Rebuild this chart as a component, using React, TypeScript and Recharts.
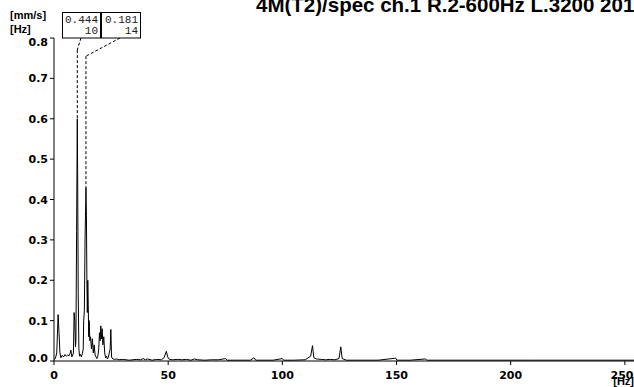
import { LineChart, Line, XAxis, YAxis, ReferenceLine } from 'recharts';

// spectrum: frequency [Hz] and velocity [mm/s]
const freqHz = [
  0, 0.6, 1.2, 1.8, 2.2, 2.6, 3.0, 3.6, 4.2, 4.8, 5.4, 6.0, 6.6, 7.0, 7.4, 7.8, 8.2, 8.5, 8.8, 9.1,
  9.4, 9.6, 9.9, 10.2, 10.35, 10.6, 10.9, 11.2, 11.6, 12.0, 12.4, 12.8, 13.0, 13.3, 13.6, 14.0, 14.2,
  14.4, 14.6, 14.8, 15.0, 15.2, 15.4, 15.7, 16.0, 16.4, 16.8, 17.2, 17.6, 18.0, 18.4, 18.8, 19.2,
  19.6, 19.9, 20.2, 20.5, 20.8, 21.1, 21.4, 21.8, 22.2, 22.6, 23.0, 23.4, 23.8, 24.2, 24.6, 24.9,
  25.2, 25.8, 26.5, 27.5, 28.5, 30, 33, 36, 38, 39, 40, 41, 43, 45, 47, 48.2, 49.2, 49.8, 50.5, 52,
  54, 56, 58, 60, 61.5, 63, 66, 69, 72, 75.2, 75.8, 78, 82, 86, 87.6, 88.4, 92, 96, 100, 100.6,
  105, 110, 112.4, 113.2, 113.8, 115, 117, 119, 121, 123, 124.8, 125.6, 126.2, 128, 135, 142, 149.6,
  150.2, 156, 162.6, 163.4, 170, 180, 190, 200, 210, 220, 230, 240, 254,
];

const velocity = [
  0.004, 0.006, 0.02, 0.115, 0.07, 0.02, 0.008, 0.014, 0.01, 0.016, 0.012, 0.015, 0.013, 0.018, 0.027, 0.01, 0.015, 0.02, 0.12, 0.1,
  0.035, 0.05, 0.32, 0.6, 0.47, 0.17, 0.03, 0.012, 0.016, 0.01, 0.018, 0.03, 0.1, 0.125, 0.3, 0.43, 0.36,
  0.2, 0.12, 0.2, 0.14, 0.06, 0.1, 0.05, 0.06, 0.03, 0.055, 0.02, 0.04, 0.015, 0.01, 0.006, 0.012,
  0.03, 0.07, 0.05, 0.087, 0.055, 0.08, 0.04, 0.06, 0.02, 0.008, 0.012, 0.005, 0.01, 0.02, 0.03, 0.078,
  0.01, 0.005, 0.004, 0.005, 0.003, 0.004, 0.002, 0.004, 0.003, 0.006, 0.003, 0.005, 0.002, 0.004, 0.003, 0.008, 0.024, 0.01, 0.004, 0.003,
  0.004, 0.003, 0.004, 0.002, 0.005, 0.003, 0.002, 0.003, 0.003, 0.006, 0.002, 0.002, 0.002, 0.002, 0.008, 0.002, 0.002, 0.002, 0.006, 0.002,
  0.002, 0.003, 0.012, 0.038, 0.008, 0.005, 0.004, 0.003, 0.004, 0.003, 0.006, 0.035, 0.006, 0.002, 0.002, 0.002, 0.007,
  0.002, 0.002, 0.005, 0.002, 0.002, 0.002, 0.002, 0.002, 0.002, 0.002, 0.002, 0.002, 0.002,
];

const xTicks = [0, 50, 100, 150, 200, 250];
const yTicks = [0, 0.1, 0.2, 0.3, 0.4, 0.5, 0.6, 0.7, 0.8];

const title = '4M(T2)/spec ch.1 R.2-600Hz L.3200 2017';

// cursor readouts: [value, frequency]
const cursorValues = ['0.444', '0.181'];
const cursorFreqs = ['10', '14'];

const data = freqHz.map((f, i) => ({ f, v: velocity[i] }));

const tickFont = { fontFamily: 'DejaVu Sans', fontWeight: 'bold' as const, fontSize: 11, fill: '#000' };

function YTick({ x, y, payload }: any) {
  let dy = 4;
  if (payload.value === 0.8) dy = 8;
  if (payload.value === 0) dy = 1;
  return (
    <text x={x} y={y + dy} textAnchor="end" {...tickFont}>
      {payload.value.toFixed(1)}
    </text>
  );
}

function XTick({ x, y, payload }: any) {
  return (
    <text x={x} y={y + 12} textAnchor="middle" {...tickFont}>
      {payload.value}
    </text>
  );
}

const dash = '3 2';

export default function App() {
  return (
    <div style={{ position: 'absolute', left: 0, top: 0, width: 634, height: 387, background: '#fff', overflow: 'hidden' }}>
      <LineChart width={634} height={387} data={data} margin={{ top: 38, right: 0, bottom: 0, left: 0 }}>
        <XAxis
          dataKey="f"
          type="number"
          domain={[0, 254]}
          ticks={xTicks}
          stroke="#000"
          tickSize={4}
          height={26}
          tick={<XTick />}
          allowDataOverflow
        />
        <YAxis
          type="number"
          domain={[0, 0.8]}
          ticks={yTicks}
          stroke="#000"
          tickSize={4}
          width={54}
          tick={<YTick />}
          allowDataOverflow
        />
        <ReferenceLine segment={[{ x: 11.8, y: 0.8 }, { x: 10.2, y: 0.77 }]} stroke="#000" strokeDasharray={dash} ifOverflow="visible" />
        <ReferenceLine segment={[{ x: 10.2, y: 0.77 }, { x: 10.2, y: 0.6 }]} stroke="#000" strokeDasharray={dash} ifOverflow="visible" />
        <ReferenceLine segment={[{ x: 28.9, y: 0.8 }, { x: 14.0, y: 0.755 }]} stroke="#000" strokeDasharray={dash} ifOverflow="visible" />
        <ReferenceLine segment={[{ x: 14.0, y: 0.755 }, { x: 14.0, y: 0.43 }]} stroke="#000" strokeDasharray={dash} ifOverflow="visible" />
        <Line dataKey="v" stroke="#000" strokeWidth={1} dot={false} type="linear" isAnimationActive={false} />
      </LineChart>
      <svg width={634} height={387} style={{ position: 'absolute', left: 0, top: 0, pointerEvents: 'none' }}>
        <text x={256} y={12} fontFamily="Liberation Sans" fontWeight="bold" fontSize={20.5} fill="#000">
          {title}
        </text>
        <g fontFamily="Liberation Sans" fontWeight="bold" fontSize={11} fill="#000">
          <text x={10} y={19}>[mm/s]</text>
          <text x={10} y={33}>[Hz]</text>
          <text x={634} y={385} textAnchor="end">[Hz]</text>
        </g>
        {cursorValues.map((val, i) => {
          const left = i === 0 ? 62.5 : 101.5;
          const w = i === 0 ? 38 : 39;
          return (
            <g key={i}>
              <rect x={left} y={12.5} width={w} height={25.5} fill="#fff" stroke="#000" />
              <g fontFamily="Liberation Mono" fontSize={11} fill="#222" textAnchor="end">
                <text x={left + w - 2.5} y={23}>{val}</text>
                <text x={left + w - 2.5} y={34}>{cursorFreqs[i]}</text>
              </g>
            </g>
          );
        })}
      </svg>
    </div>
  );
}
